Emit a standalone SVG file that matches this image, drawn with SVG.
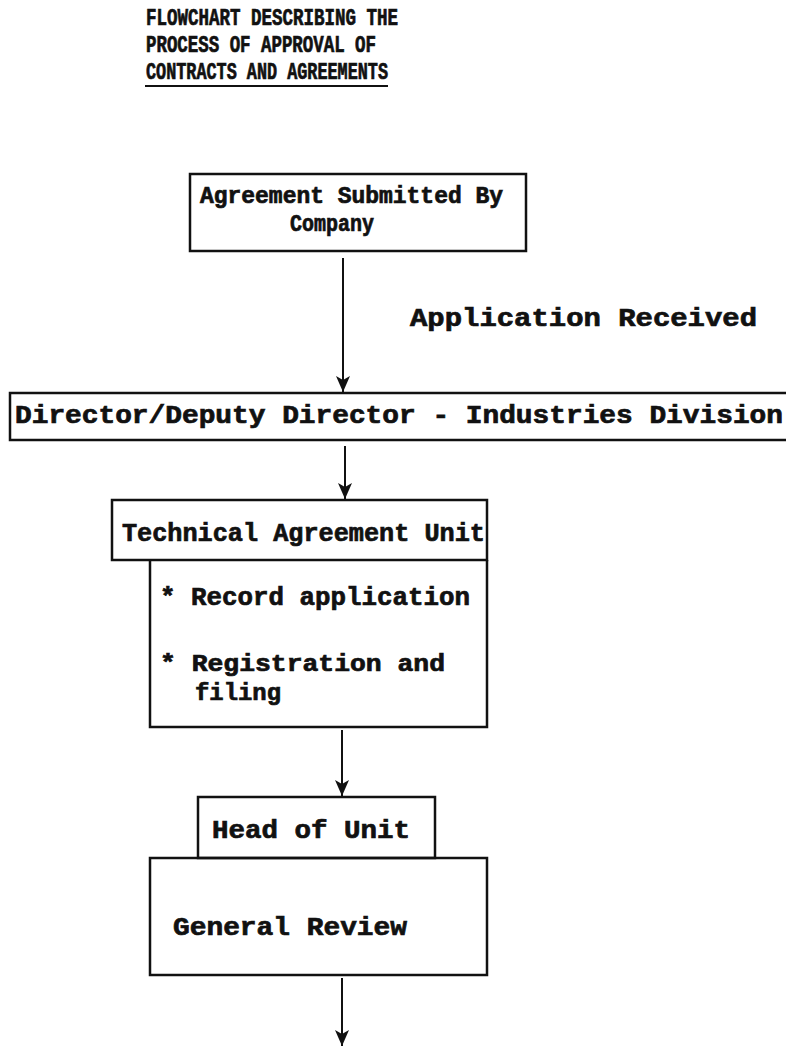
<svg xmlns="http://www.w3.org/2000/svg" width="786" height="1047" viewBox="0 0 786 1047">
<style>
.t{font-family:"Liberation Mono","Courier New",monospace;font-weight:bold;fill:#111;stroke:#111;stroke-width:0.7;}
.title{font-size:23px;}
.b{font-size:25px;}
.s{font-size:23px;}
.box{fill:none;stroke:#111;stroke-width:2.5;}
.con{fill:none;stroke:#111;stroke-width:2;}
</style>
<defs>
<marker id="ah" viewBox="0 0 16 14" refX="16" refY="7" markerWidth="16" markerHeight="14" markerUnits="userSpaceOnUse" orient="auto">
<path d="M0,0 L16,7 L0,14 L4,7 Z" fill="#111"/>
</marker>
</defs>
<rect width="786" height="1047" fill="#fff"/>
<g id="title">
<text class="t title" x="146" y="25" textLength="252" lengthAdjust="spacingAndGlyphs">FLOWCHART DESCRIBING THE</text>
<text class="t title" x="146" y="52" textLength="230" lengthAdjust="spacingAndGlyphs">PROCESS OF APPROVAL OF</text>
<text class="t title" x="146" y="79" textLength="242" lengthAdjust="spacingAndGlyphs">CONTRACTS AND AGREEMENTS</text>
<line x1="145" y1="86" x2="388" y2="86" stroke="#111" stroke-width="2"/>
</g>
<g id="node-company">
<rect class="box" x="190" y="174" width="336" height="77"/>
<text class="t s" x="200" y="203" textLength="303" lengthAdjust="spacingAndGlyphs">Agreement Submitted By</text>
<text class="t s" x="290" y="231" textLength="84" lengthAdjust="spacingAndGlyphs">Company</text>
</g>
<g id="label-received">
<text class="t b" x="410" y="326" textLength="347" lengthAdjust="spacingAndGlyphs">Application Received</text>
</g>
<g id="node-director">
<path class="box" d="M786,393 H10 V440 H786"/>
<text class="t b" x="15" y="423" textLength="768" lengthAdjust="spacingAndGlyphs">Director/Deputy Director - Industries Division</text>
</g>
<g id="node-technical">
<rect class="box" x="112" y="500" width="375" height="60"/>
<text class="t b" x="122" y="541" textLength="363" lengthAdjust="spacingAndGlyphs">Technical Agreement Unit</text>
<path class="box" d="M150,560 V727 H487 V560"/>
<text class="t b" x="160" y="605" textLength="310" lengthAdjust="spacingAndGlyphs">* Record application</text>
<text class="t s" x="160" y="671" textLength="285" lengthAdjust="spacingAndGlyphs">* Registration and</text>
<text class="t s" x="195" y="700" textLength="86" lengthAdjust="spacingAndGlyphs">filing</text>
</g>
<g id="node-head">
<rect class="box" x="198" y="797" width="237" height="61"/>
<text class="t b" x="212" y="838" textLength="198" lengthAdjust="spacingAndGlyphs">Head of Unit</text>
</g>
<g id="node-review">
<rect class="box" x="150" y="858" width="337" height="117"/>
<text class="t b" x="173" y="935" textLength="234" lengthAdjust="spacingAndGlyphs">General Review</text>
</g>
<g id="connectors">
<line class="con" x1="343" y1="258" x2="343" y2="392" marker-end="url(#ah)"/>
<line class="con" x1="345" y1="446" x2="345" y2="499" marker-end="url(#ah)"/>
<line class="con" x1="342" y1="730" x2="342" y2="796" marker-end="url(#ah)"/>
<line class="con" x1="342" y1="978" x2="342" y2="1046" marker-end="url(#ah)"/>
</g>
</svg>
